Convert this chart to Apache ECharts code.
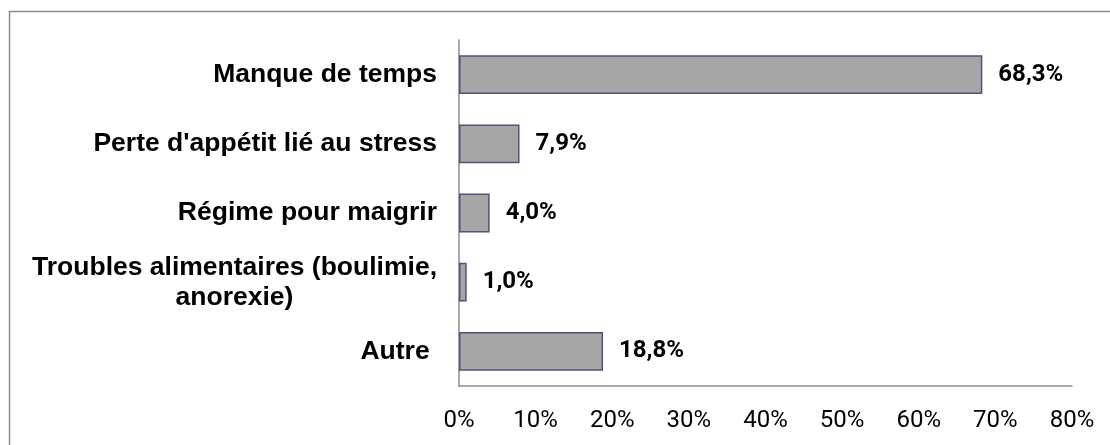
<!DOCTYPE html>
<html>
<head>
<meta charset="utf-8">
<title>Raisons</title>
<script src="https://cdn.jsdelivr.net/npm/echarts@6/dist/echarts.min.js"></script>
<style>
  html, body { margin: 0; padding: 0; background: #ffffff; }
  #chart { width: 1110px; height: 445px; }
</style>
</head>
<body>
<div id="chart"></div>
<script>
// Categories, top to bottom
const categories = [
  'Manque de temps',
  "Perte d'appétit lié au stress",
  'Régime pour maigrir',
  'Troubles alimentaires (boulimie,\nanorexie)',
  'Autre '
];

// Share of respondents, in percent
const values = [68.3, 7.9, 4.0, 1.0, 18.8];

// Value axis ticks
const axisMin = 0;
const axisMax = 80;
const axisStep = 10;

const fmtPct = v => v.toFixed(1).replace('.', ',') + '%';

const chart = echarts.init(document.getElementById('chart'), null, { renderer: 'canvas' });

chart.setOption({
  backgroundColor: '#ffffff',
  animation: false,
  graphic: [{
    type: 'rect',
    silent: true,
    shape: { x: 9.5, y: 11.5, width: 1300, height: 600 },
    style: { fill: 'none', stroke: '#8c8c8c', lineWidth: 1.5 }
  }],
  grid: { left: 459, right: 38, top: 40, bottom: 59, containLabel: false },
  xAxis: {
    type: 'value',
    min: axisMin,
    max: axisMax,
    interval: axisStep,
    axisLine: { show: true, lineStyle: { color: '#8a8a8a', width: 1.5 } },
    axisTick: { show: false },
    splitLine: { show: false },
    axisLabel: {
      formatter: '{value}%',
      margin: 23,
      color: '#000000',
      fontFamily: 'Roboto',
      fontSize: 24
    }
  },
  yAxis: {
    type: 'category',
    inverse: true,
    data: categories,
    axisLine: { show: true, lineStyle: { color: '#8a8a8a', width: 1.5 } },
    axisTick: { show: false },
    axisLabel: {
      margin: 22,
      color: '#000000',
      fontFamily: 'Liberation Sans, Arial, sans-serif',
      fontWeight: 'bold',
      fontSize: 26.5,
      lineHeight: 30,
      align: 'right',
      formatter: v => v.split('\n').map(s => '{c|' + s + '}').join('\n'),
      rich: {
        c: {
          align: 'center',
          color: '#000000',
          fontFamily: 'Liberation Sans, Arial, sans-serif',
          fontWeight: 'bold',
          fontSize: 26.5,
          lineHeight: 30
        }
      }
    }
  },
  series: [{
    type: 'bar',
    data: values,
    barCategoryGap: '44%',
    itemStyle: {
      color: '#a6a6a6',
      borderColor: '#604a7b',
      borderWidth: 1.5
    },
    label: {
      show: true,
      position: 'right',
      distance: 16,
      color: '#000000',
      fontFamily: 'Roboto',
      fontWeight: 'bold',
      fontSize: 24,
      formatter: p => fmtPct(p.value)
    }
  }]
});
</script>
</body>
</html>
